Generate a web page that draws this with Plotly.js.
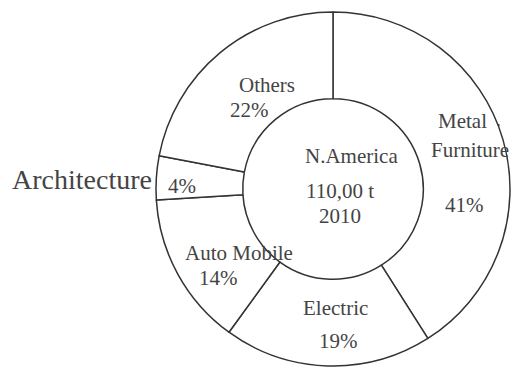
<!DOCTYPE html>
<html>
<head>
<meta charset="utf-8">
<script src="https://cdn.plot.ly/plotly-3.0.1.min.js"></script>
</head>
<body style="margin:0">
<div id="chart" style="width:512px;height:367px"></div>
<script>
// End-use split of consumption, clockwise from 12 o'clock
const categories = ['Metal Furniture', 'Electric', 'Auto Mobile', 'Architecture', 'Others'];
const shares = [41, 19, 14, 4, 22];
const region = 'N.America';
const totalVolume = '110,00 t';
const year = '2010';

const W = 512, H = 367;
const serifFace = 'Liberation Serif';

// place a text by pixel centre-x and baseline-y
function label(text, x, baseline, size, xanchor) {
  return {
    text: text,
    x: x / W,
    y: 1 - (baseline - size * 0.32) / H,
    xref: 'paper', yref: 'paper',
    xanchor: xanchor || 'center', yanchor: 'middle',
    showarrow: false,
    font: { family: serifFace, size: size }
  };
}

const pct = i => shares[i] + '%';
const fs = 21;

const annotations = [
  // centre of the ring
  label(region, 351, 163, fs),
  label(totalVolume, 340, 198, fs),
  label(year, 340, 223, fs),
  // Metal Furniture
  label(categories[0].split(' ')[0], 462, 128, fs),
  label(categories[0].split(' ')[1], 470, 157, fs),
  label(pct(0), 464, 212, fs),
  // Electric
  label(categories[1], 335, 315, fs),
  label(pct(1), 338, 348, fs),
  // Auto Mobile
  label(categories[2], 239, 260, fs),
  label(pct(2), 218, 285, fs),
  // Architecture, named outside the ring
  label(categories[3], 10, 188, 28, 'left'),
  label(pct(3), 182, 193, fs),
  // Others
  label(categories[4], 267, 92, fs),
  label(pct(4), 249, 117, fs),
  // small mark near the rim
  { text: '•', x: 502 / W, y: 1 - 118 / H, xref: 'paper', yref: 'paper',
    showarrow: false, font: { family: serifFace, size: 9 } }
];

const trace = {
  type: 'pie',
  labels: categories,
  values: shares,
  sort: false,
  direction: 'clockwise',
  rotation: 0,
  hole: 0.51,
  textinfo: 'none',
  marker: {
    colors: categories.map(() => '#ffffff'),
    line: { color: '#333333', width: 1.5 }
  },
  domain: { x: [156 / W, 510 / W], y: [1 / H, 355 / H] },
  showlegend: false
};

const layout = {
  width: W, height: H,
  margin: { l: 0, r: 0, t: 0, b: 0 },
  showlegend: false,
  annotations: annotations
};

Plotly.newPlot('chart', [trace], layout, { staticPlot: true });
</script>
</body>
</html>
